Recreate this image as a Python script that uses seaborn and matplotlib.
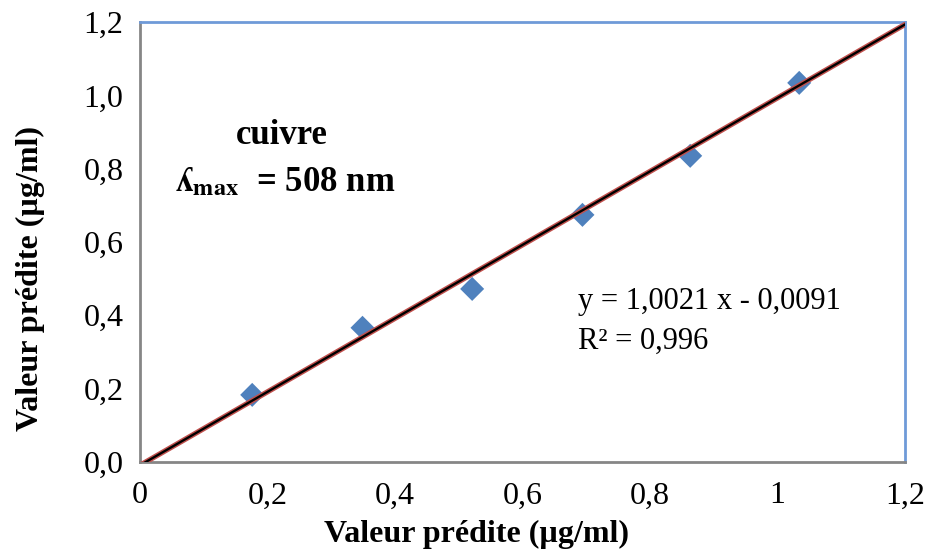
import numpy as np
import pandas as pd
import matplotlib
matplotlib.use("Agg")
import matplotlib.pyplot as plt
import seaborn as sns

# Measured vs predicted copper concentrations (µg/ml)
x_values = [0.176, 0.349, 0.521, 0.694, 0.863, 1.034]
y_values = [0.183, 0.366, 0.472, 0.674, 0.835, 1.034]

# Linear trendline parameters
slope = 1.0021
intercept = -0.0091
r_squared = 0.996

x_ticks = [0, 0.2, 0.4, 0.6, 0.8, 1.0, 1.2]
x_tick_labels = ["0", "0,2", "0,4", "0,6", "0,8", "1", "1,2"]
y_ticks = [0.0, 0.2, 0.4, 0.6, 0.8, 1.0, 1.2]
y_tick_labels = ["0,0", "0,2", "0,4", "0,6", "0,8", "1,0", "1,2"]

sns.set_theme(style="white")
plt.rcParams["font.family"] = ["Liberation Serif", "DejaVu Serif"]
plt.rcParams["mathtext.fontset"] = "stix"
plt.rcParams["text.color"] = "black"
plt.rcParams["axes.labelcolor"] = "black"

fig = plt.figure(figsize=(9.29, 5.53), dpi=100)
ax = fig.add_axes([0.1507, 0.1646, 0.8235, 0.7956])

df = pd.DataFrame({"x": x_values, "y": y_values})

# trendline: red outline with a black core
line_x = np.array([0.0, 1.2])
trend_df = pd.DataFrame({"x": line_x, "y": slope * line_x + intercept})
sns.lineplot(data=trend_df, x="x", y="y", ax=ax, color="#C0504D", linewidth=3.8, zorder=3)
sns.lineplot(data=trend_df, x="x", y="y", ax=ax, color="black", linewidth=1.7, zorder=4)

sns.scatterplot(data=df, x="x", y="y", ax=ax, marker="D", s=150, color="#4F81BD",
                edgecolor="none", zorder=2)

ax.set_xlim(0, 1.2)
ax.set_ylim(0, 1.2)
ax.set_xticks(x_ticks)
ax.set_xticklabels(x_tick_labels)
ax.set_yticks(y_ticks)
ax.set_yticklabels(y_tick_labels)
ax.tick_params(axis="both", length=0, labelsize=23, colors="black")
ax.tick_params(axis="x", pad=14)
ax.tick_params(axis="y", pad=12)

for side in ("left", "bottom"):
    ax.spines[side].set_color("#868686")
    ax.spines[side].set_linewidth(2)
for side in ("top", "right"):
    ax.spines[side].set_color("#6F9AD8")
    ax.spines[side].set_linewidth(2)

ax.set_xlabel("Valeur prédite (µg/ml)", fontsize=23, fontweight="bold")
ax.set_ylabel("Valeur prédite (µg/ml)", fontsize=23, fontweight="bold")
ax.xaxis.set_label_coords(0.44, -0.132)
ax.yaxis.set_label_coords(-0.124, 0.416)

ax.text(0.186, 0.743, "cuivre", transform=ax.transAxes, fontsize=25, fontweight="bold",
        ha="center", va="center", color="black")
ax.text(0.046, 0.635, r"ʎ$_{\mathbf{max}}$  = 508 nm", transform=ax.transAxes, fontsize=25,
        fontweight="bold", ha="left", va="center", color="black")

ax.text(0.573, 0.365, f"y = {slope:.4f} x - {abs(intercept):.4f}".replace(".", ","),
        transform=ax.transAxes, fontsize=22, ha="left", va="center", color="black")
ax.text(0.573, 0.275, f"R² = {r_squared:.3f}".replace(".", ","),
        transform=ax.transAxes, fontsize=22, ha="left", va="center", color="black")

fig.savefig("out.png", dpi=100)
